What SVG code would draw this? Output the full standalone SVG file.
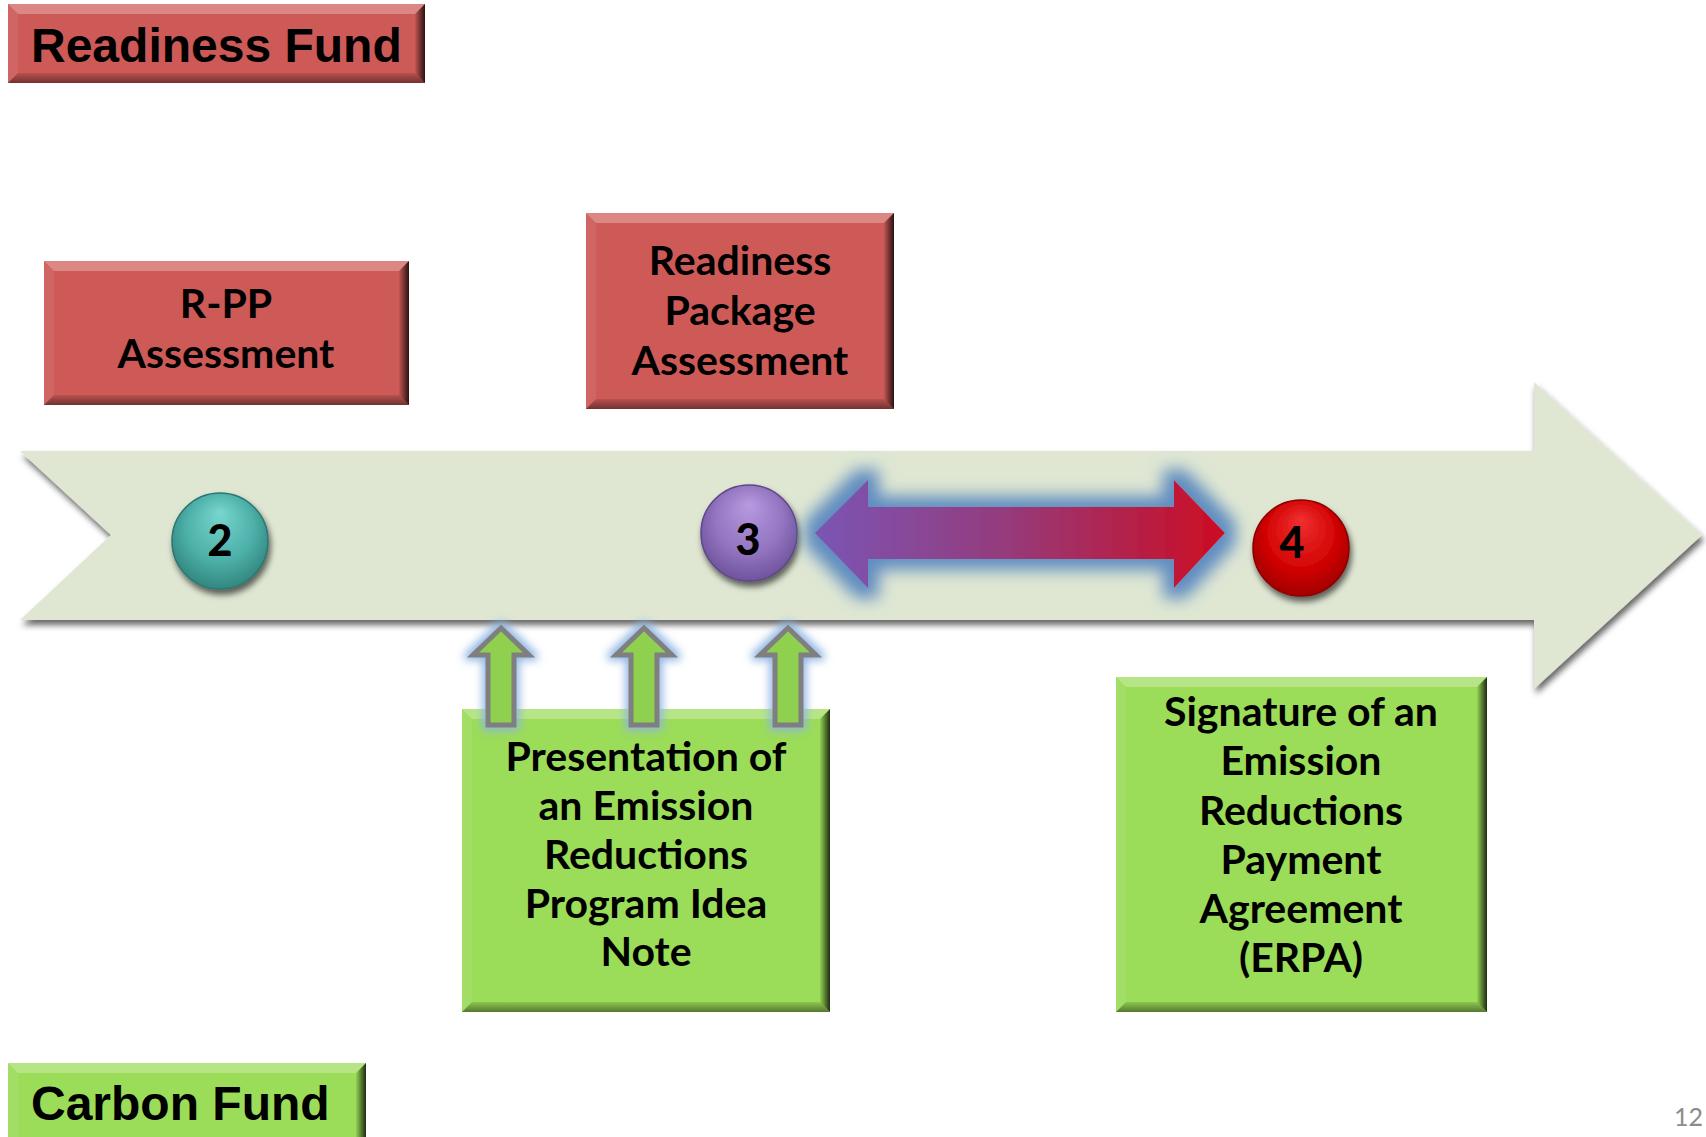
<svg xmlns="http://www.w3.org/2000/svg" width="1706" height="1137" viewBox="0 0 1706 1137">
<style>
.red{fill:#cd5a57}
.grn{fill:#9bdc58}
.bt{fill:#ffffff;fill-opacity:0.28}
.bl{fill:#ffffff;fill-opacity:0.08}
.brr{fill:url(#gRight)}
.bb{fill:url(#gBottom)}
.lbl{font-family:Lato,"Open Sans",sans-serif;font-weight:bold;font-size:41px;fill:#000;text-anchor:middle}
.fund{font-family:"Liberation Sans",Arial,sans-serif;font-weight:bold;font-size:48px;fill:#000}
.num{font-family:Lato,"Open Sans",sans-serif;font-weight:900;font-size:43px;fill:#000;text-anchor:middle}
.up{fill:#8fd14f;stroke:#7f7f7f;stroke-width:5;stroke-linejoin:miter}
</style>
<defs>
<linearGradient id="gRight" x1="0" y1="0" x2="1" y2="0">
<stop offset="0" stop-color="#000" stop-opacity="0.05"/>
<stop offset="1" stop-color="#000" stop-opacity="0.8"/>
</linearGradient>
<linearGradient id="gBottom" x1="0" y1="0" x2="0" y2="1">
<stop offset="0" stop-color="#000" stop-opacity="0.1"/>
<stop offset="1" stop-color="#000" stop-opacity="0.45"/>
</linearGradient>
<linearGradient id="gDouble" x1="0" y1="0" x2="1" y2="0">
<stop offset="0" stop-color="#7a55b4"/>
<stop offset="0.45" stop-color="#943c7e"/>
<stop offset="1" stop-color="#cc0d22"/>
</linearGradient>
<radialGradient id="gTeal" cx="0.5" cy="0.45" r="0.6" fx="0.5" fy="0.2">
<stop offset="0" stop-color="#78d6ce"/>
<stop offset="0.6" stop-color="#4cb0a8"/>
<stop offset="1" stop-color="#2e8079"/>
</radialGradient>
<radialGradient id="gPurple" cx="0.5" cy="0.45" r="0.6" fx="0.5" fy="0.2">
<stop offset="0" stop-color="#b79ae0"/>
<stop offset="0.6" stop-color="#9274c0"/>
<stop offset="1" stop-color="#6a4e96"/>
</radialGradient>
<radialGradient id="gRed" cx="0.5" cy="0.45" r="0.6" fx="0.5" fy="0.2">
<stop offset="0" stop-color="#f03030"/>
<stop offset="0.6" stop-color="#d40505"/>
<stop offset="1" stop-color="#9a0000"/>
</radialGradient>
<filter id="shadow" x="-10%" y="-20%" width="120%" height="150%">
<feDropShadow dx="2" dy="5" stdDeviation="3" flood-color="#000" flood-opacity="0.6"/>
</filter>
<filter id="glow" x="-20%" y="-60%" width="140%" height="220%">
<feMorphology in="SourceAlpha" operator="dilate" radius="11" result="d"/>
<feGaussianBlur in="d" stdDeviation="8" result="b"/>
<feFlood flood-color="#5283be" flood-opacity="0.9"/>
<feComposite in2="b" operator="in" result="g"/>
<feMerge><feMergeNode in="g"/><feMergeNode in="SourceGraphic"/></feMerge>
</filter>
<filter id="glowS" x="-50%" y="-30%" width="200%" height="160%">
<feMorphology in="SourceAlpha" operator="dilate" radius="3" result="d"/>
<feGaussianBlur in="d" stdDeviation="4" result="b"/>
<feFlood flood-color="#8db3e2" flood-opacity="0.95"/>
<feComposite in2="b" operator="in" result="g"/>
<feMerge><feMergeNode in="g"/><feMergeNode in="SourceGraphic"/></feMerge>
</filter>
</defs>
<rect width="1706" height="1137" fill="#ffffff"/>

<g id="timeline">
<path d="M20,451 L1534,451 L1534,382 L1702,535 L1534,689 L1534,620 L20,620 L111,535 Z" fill="#dfe7d3" filter="url(#shadow)"/>
</g>

<g id="readiness-fund">
<rect class="red" x="8" y="4" width="417" height="79"/>
<polygon class="bt" points="8,4 425,4 415,14 18,14"/>
<polygon class="bl" points="8,4 18,14 18,73 8,83"/>
<polygon class="brr" points="415,14 425,4 425,83 415,73"/>
<polygon class="bb" points="18,73 415,73 425,83 8,83"/>
<text class="fund" x="31" y="62">Readiness Fund</text>
</g>

<g id="rpp-assessment">
<rect class="red" x="44" y="261" width="365" height="144"/>
<polygon class="bt" points="44,261 409,261 399,271 54,271"/>
<polygon class="bl" points="44,261 54,271 54,395 44,405"/>
<polygon class="brr" points="399,271 409,261 409,405 399,395"/>
<polygon class="bb" points="54,395 399,395 409,405 44,405"/>
<text class="lbl" x="226" y="318">R-PP</text>
<text class="lbl" x="226" y="368">Assessment</text>
</g>

<g id="readiness-package-assessment">
<rect class="red" x="586" y="213" width="308" height="196"/>
<polygon class="bt" points="586,213 894,213 884,223 596,223"/>
<polygon class="bl" points="586,213 596,223 596,399 586,409"/>
<polygon class="brr" points="884,223 894,213 894,409 884,399"/>
<polygon class="bb" points="596,399 884,399 894,409 586,409"/>
<text class="lbl" x="740" y="275">Readiness</text>
<text class="lbl" x="740" y="325">Package</text>
<text class="lbl" x="740" y="375">Assessment</text>
</g>

<g id="step-2">
<ellipse cx="220" cy="541" rx="48" ry="48" fill="url(#gTeal)" stroke="#2a7770" stroke-width="1.5" filter="url(#shadow)"/>
<text class="num" x="220" y="556">2</text>
</g>

<g id="step-3">
<ellipse cx="749" cy="533" rx="48" ry="48" fill="url(#gPurple)" stroke="#5f4689" stroke-width="1.5" filter="url(#shadow)"/>
<text class="num" x="748" y="555">3</text>
</g>

<g id="step-4">
<ellipse cx="1301" cy="548" rx="48" ry="48" fill="url(#gRed)" stroke="#8a0000" stroke-width="1.5" filter="url(#shadow)"/>
<text class="num" x="1292" y="558">4</text>
</g>

<g id="presentation-er-pin">
<rect class="grn" x="462" y="709" width="368" height="303"/>
<polygon class="bt" points="462,709 830,709 820,719 472,719"/>
<polygon class="bl" points="462,709 472,719 472,1002 462,1012"/>
<polygon class="brr" points="820,719 830,709 830,1012 820,1002"/>
<polygon class="bb" points="472,1002 820,1002 830,1012 462,1012"/>
<text class="lbl" x="646" y="771">Presentation of</text>
<text class="lbl" x="646" y="820">an Emission</text>
<text class="lbl" x="646" y="869">Reductions</text>
<text class="lbl" x="646" y="918">Program Idea</text>
<text class="lbl" x="646" y="966">Note</text>
</g>

<g id="signature-erpa">
<rect class="grn" x="1116" y="677" width="371" height="335"/>
<polygon class="bt" points="1116,677 1487,677 1477,687 1126,687"/>
<polygon class="bl" points="1116,677 1126,687 1126,1002 1116,1012"/>
<polygon class="brr" points="1477,687 1487,677 1487,1012 1477,1002"/>
<polygon class="bb" points="1126,1002 1477,1002 1487,1012 1116,1012"/>
<text class="lbl" x="1301" y="726">Signature of an</text>
<text class="lbl" x="1301" y="775">Emission</text>
<text class="lbl" x="1301" y="825">Reductions</text>
<text class="lbl" x="1301" y="874">Payment</text>
<text class="lbl" x="1301" y="923">Agreement</text>
<text class="lbl" x="1301" y="972">(ERPA)</text>
</g>

<g id="carbon-fund">
<rect class="grn" x="8" y="1063" width="358" height="80"/>
<polygon class="bt" points="8,1063 366,1063 356,1073 18,1073"/>
<polygon class="bl" points="8,1063 18,1073 18,1137 8,1137"/>
<polygon class="brr" points="356,1073 366,1063 366,1137 356,1137"/>
<text class="fund" x="31" y="1120">Carbon Fund</text>
</g>

<g id="connectors">
<path d="M815,533 L868,480 L868,507 L1174,507 L1174,480 L1225,533 L1174,588 L1174,559 L868,559 L868,588 Z" fill="url(#gDouble)" filter="url(#glow)"/>
<g filter="url(#glowS)">
<path class="up" d="M501,628 L473,655 L488,655 L488,725 L514,725 L514,655 L529,655 Z"/>
<path class="up" d="M644,628 L616,655 L631,655 L631,725 L657,725 L657,655 L672,655 Z"/>
<path class="up" d="M788,628 L760,655 L775,655 L775,725 L801,725 L801,655 L816,655 Z"/>
</g>
</g>

<text x="1703" y="1126" font-family="Lato,'Open Sans',sans-serif" font-size="25" fill="#8c8c8c" text-anchor="end">12</text>
</svg>
